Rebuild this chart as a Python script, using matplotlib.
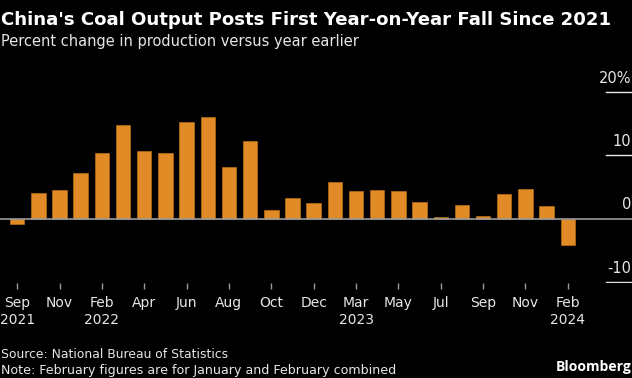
#!/usr/bin/env python3
# -*- coding: utf-8 -*-
"""China coal output, year-on-year change, Bloomberg dark style."""
import matplotlib
matplotlib.use("Agg")
import matplotlib.pyplot as plt
import numpy as np

months = ["Sep 2021", "Oct 2021", "Nov 2021", "Dec 2021", "Feb 2022",
          "Mar 2022", "Apr 2022", "May 2022", "Jun 2022", "Jul 2022",
          "Aug 2022", "Sep 2022", "Oct 2022", "Nov 2022", "Dec 2022",
          "Feb 2023", "Mar 2023", "Apr 2023", "May 2023", "Jun 2023",
          "Jul 2023", "Aug 2023", "Sep 2023", "Oct 2023", "Nov 2023",
          "Dec 2023", "Feb 2024"]
pct_change = [-0.8, 4.0, 4.6, 7.2, 10.3, 14.8, 10.7, 10.3, 15.3, 16.1,
              8.1, 12.3, 1.3, 3.2, 2.5, 5.8, 4.4, 4.6, 4.3, 2.6,
              0.3, 2.1, 0.5, 3.9, 4.7, 2.0, -4.1]
tick_labels = ["Sep\n2021", "Nov", "Feb\n2022", "Apr", "Jun", "Aug", "Oct",
               "Dec", "Mar\n2023", "May", "Jul", "Sep", "Nov", "Feb\n2024"]
y_ticks = [20, 10, 0, -10]
y_tick_labels = ["20%", "10", "0", "-10"]

BG = "black"
BAR = "#e08b26"
TXT = "#e6e6e6"
GREY = "#9a9a9a"

fig = plt.figure(figsize=(6.32, 3.78), dpi=100, facecolor=BG)
axe = fig.add_axes([0, 0.2513, 1, 0.5722], facecolor=BG)

x = np.arange(len(months))
axe.bar(x, pct_change, width=0.68, color=BAR, edgecolor="#b86e1a",
        linewidth=0.5, zorder=2)
axe.axhline(0, color=GREY, lw=1.2, zorder=3)

axe.set_xlim(-0.81, 29.03)
axe.set_ylim(-10.16, 24.0)
for side in axe.spines.values():
    side.set_visible(False)

axe.set_xticks(x[::2])
axe.set_xticklabels(tick_labels, fontsize=10, color=TXT, linespacing=1.3)
axe.tick_params(axis="x", length=4, width=1, color=GREY, pad=5)
axe.set_yticks([])

# right-hand value labels with short gridline stubs
for val, lab in zip(y_ticks, y_tick_labels):
    if val != 0:
        axe.plot([27.8, 29.0], [val, val], color=TXT, lw=1, zorder=3)
    axe.text(29.0, val + 1.0, lab, ha="right", va="bottom",
             fontsize=10.5, color=TXT)

fig.text(0.001, 0.947, "China's Coal Output Posts First Year-on-Year Fall Since 2021",
         ha="left", va="center", fontsize=13.1, fontweight="bold",
         color="white")
fig.text(0.001, 0.89, "Percent change in production versus year earlier",
         ha="left", va="center", fontsize=10.55, color=TXT)
fig.text(0.001, 0.062, "Source: National Bureau of Statistics",
         ha="left", va="center", fontsize=8.95, color=TXT)
fig.text(0.001, 0.021, "Note: February figures are for January and February combined",
         ha="left", va="center", fontsize=9.1, color=TXT)
fig.text(0.999, 0.03, "Bloomberg", ha="right", va="center", fontsize=10,
         fontweight="bold", color="white", family=["Open Sans", "DejaVu Sans"])

fig.savefig("out.png", dpi=100, facecolor=BG)
